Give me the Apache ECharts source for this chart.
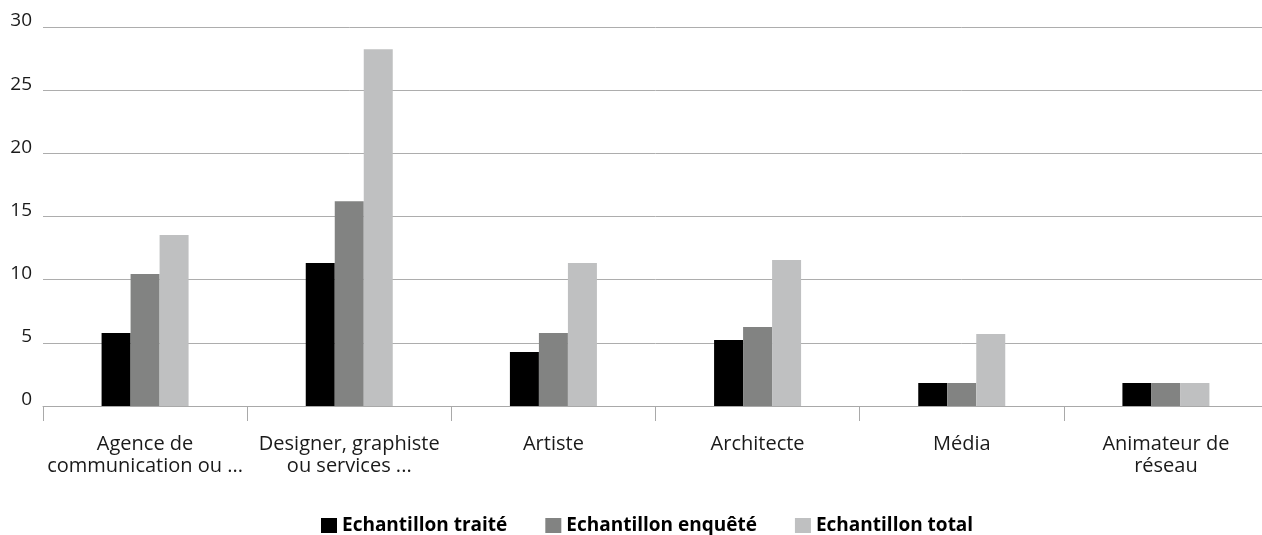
<!DOCTYPE html>
<html>
<head>
<meta charset="utf-8">
<script src="https://cdn.jsdelivr.net/npm/echarts@6/dist/echarts.min.js"></script>
<style>html,body{margin:0;padding:0;background:#fff;overflow:hidden;}#c{width:1268px;height:535px;}</style>
</head>
<body>
<div id="c"></div>
<script>
const categories = ["Agence de\ncommunication ou ...", "Designer, graphiste\nou services ...", "Artiste", "Architecte", "Média", "Animateur de\nréseau"];
const seriesNames = ["Echantillon traité", "Echantillon enquêté", "Echantillon total"];
const traite = [5.77, 11.31, 4.27, 5.22, 1.82, 1.82];
const enquete = [10.44, 16.2, 5.77, 6.25, 1.82, 1.82];
const total = [13.53, 28.24, 11.31, 11.55, 5.7, 1.82];
const yTicks = [0, 5, 10, 15, 20, 25, 30];
const colors = ["#000000", "#828382", "#bfc0c1"];

const chart = echarts.init(document.getElementById('c'), null, {renderer: 'canvas'});
const font = '"Open Sans", Roboto, sans-serif';
const mk = (name, data, i) => ({
  name, type: 'bar', data, barWidth: 29, barGap: '0%',
  itemStyle: {color: colors[i]}
});
chart.setOption({
  animation: false,
  textStyle: {fontFamily: font},
  grid: {left: 43, top: 27, right: 0, height: 379, containLabel: false},
  legend: {
    left: 316, top: 511, itemWidth: 16, itemHeight: 15, itemGap: 38,
    icon: 'rect',
    textStyle: {fontFamily: font, fontSize: 19, fontWeight: 'bold', color: '#000'},
    data: seriesNames
  },
  xAxis: {
    type: 'category', data: categories,
    axisLine: {lineStyle: {color: '#a9a9a9', width: 1}},
    axisTick: {show: true, length: 15, lineStyle: {color: '#a9a9a9'}},
    axisLabel: {fontFamily: font, fontSize: 20, color: '#1a1a1a', margin: 27, lineHeight: 22, interval: 0}
  },
  yAxis: {
    type: 'value', min: yTicks[0], max: yTicks[yTicks.length - 1], interval: 5,
    axisLine: {show: false}, axisTick: {show: false},
    splitLine: {lineStyle: {color: '#adadad', width: 1}},
    axisLabel: {fontFamily: font, fontSize: 19, color: '#1a1a1a', margin: 11, verticalAlign: 'bottom', lineHeight: 12}
  },
  series: [mk(seriesNames[0], traite, 0), mk(seriesNames[1], enquete, 1), mk(seriesNames[2], total, 2)]
});
</script>
</body>
</html>
